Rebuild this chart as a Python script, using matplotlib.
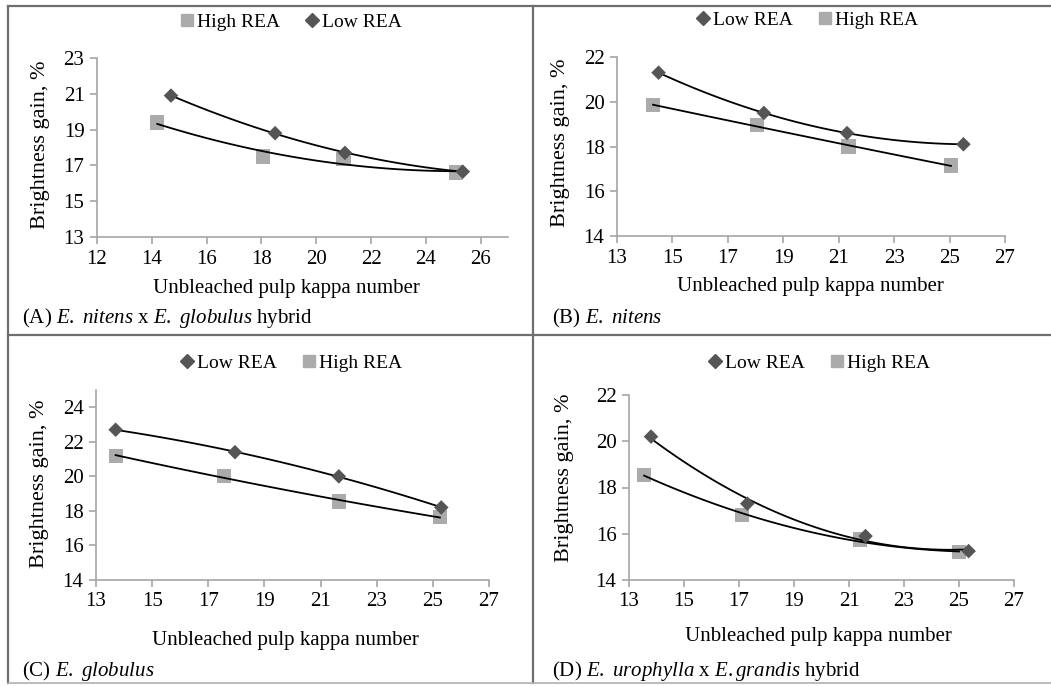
import numpy as np
import matplotlib
matplotlib.use('Agg')
import matplotlib.pyplot as plt
from matplotlib.lines import Line2D

plt.rcParams['font.family'] = ['Liberation Serif', 'DejaVu Serif']
plt.rcParams['mathtext.fontset'] = 'custom'
plt.rcParams['mathtext.rm'] = 'Liberation Serif'
plt.rcParams['mathtext.it'] = 'Liberation Serif:italic'

# data: (kappa number, brightness gain %)
lowA_x = [14.7, 18.5, 21.05, 25.35]
lowA_y = [20.9, 18.8, 17.7, 16.65]
highA_x = [14.2, 18.05, 21.0, 25.1]
highA_y = [19.4, 17.5, 17.35, 16.6]

lowB_x = [14.5, 18.3, 21.3, 25.5]
lowB_y = [21.3, 19.5, 18.6, 18.1]
highB_x = [14.3, 18.05, 21.35, 25.05]
highB_y = [19.85, 18.95, 18.0, 17.15]

lowC_x = [13.7, 17.95, 21.65, 25.3]
lowC_y = [22.7, 21.4, 20.0, 18.2]
highC_x = [13.7, 17.55, 21.65, 25.25]
highC_y = [21.2, 20.0, 18.55, 17.65]

lowD_x = [13.8, 17.3, 21.6, 25.35]
lowD_y = [20.2, 17.3, 15.9, 15.25]
highD_x = [13.55, 17.1, 21.4, 25.0]
highD_y = [18.55, 16.8, 15.75, 15.2]

xlabel = 'Unbleached pulp kappa number'
ylabel = 'Brightness gain, %'

LOW_COL = '#555555'
HIGH_COL = '#ababab'
AX_COL = '#a6a6a6'

fig = plt.figure(figsize=(10.51, 6.86), dpi=100)


def frac(px, py):
    # pixel position -> figure fraction
    return px / 1051, 1 - py / 686


def panel(rect, xlim, xticks, ylim, yticks, low, high, order, caption,
          leg_xy, ylab_x, xlab_y, cap_xy):
    ax = fig.add_axes(rect)
    ax.set_xlim(*xlim)
    ax.set_ylim(*ylim)
    ax.set_xticks(xticks)
    ax.set_yticks(yticks)
    for s in ('top', 'right'):
        ax.spines[s].set_visible(False)
    for s in ('left', 'bottom'):
        ax.spines[s].set_color(AX_COL)
        ax.spines[s].set_linewidth(1.2)
    ax.tick_params(direction='out', length=5, width=1.2, color=AX_COL,
                   labelsize=15, pad=4)
    # 2nd order trendlines like the spreadsheet ones
    for (xs, ys) in (low, high):
        c = np.polyfit(xs, ys, 2)
        xx = np.linspace(min(xs), max(xs), 100)
        ax.plot(xx, np.polyval(c, xx), color='black', lw=1.3, zorder=3)
    ax.scatter(high[0], high[1], marker='s', s=105, color=HIGH_COL, zorder=2,
               edgecolors='none')
    ax.scatter(low[0], low[1], marker='D', s=55, color=LOW_COL, zorder=4,
               edgecolors='none')
    ax.patch.set_alpha(0)

    fig.text(*frac(*ylab_x), ylabel, rotation=90, ha='center', va='center',
             fontsize=16)
    fig.text(*frac(*xlab_y), xlabel, ha='center', va='center', fontsize=15)
    fig.text(*frac(*cap_xy), caption, ha='left', va='center', fontsize=15)

    hl = Line2D([], [], marker='s', ls='', color=HIGH_COL, markersize=9)
    ll = Line2D([], [], marker='D', ls='', color=LOW_COL, markersize=7)
    handles = {'High REA': hl, 'Low REA': ll}
    fig.legend([handles[k] for k in order], order, loc='center',
               bbox_to_anchor=frac(*leg_xy), ncol=2, frameon=False,
               fontsize=14, handletextpad=0.05, columnspacing=1.2,
               handlelength=0.9)
    return ax


panel([97 / 1051, 1 - 237 / 686, 411 / 1051, 179 / 686],
      (12, 27), range(12, 27, 2), (13, 23), range(13, 24, 2),
      (lowA_x, lowA_y), (highA_x, highA_y), ['High REA', 'Low REA'],
      r'(A) $\mathit{E.}$ $\mathit{nitens}$ x $\mathit{E.}$ $\mathit{globulus}$ hybrid',
      (290, 22), (41, 145), (286, 288), (22, 318))

panel([617 / 1051, 1 - 236 / 686, 388 / 1051, 179 / 686],
      (13, 27), range(13, 28, 2), (14, 22), range(14, 23, 2),
      (lowB_x, lowB_y), (highB_x, highB_y), ['Low REA', 'High REA'],
      r'(B) $\mathit{E.}$ $\mathit{nitens}$',
      (806, 20), (561, 143), (810, 286), (552, 318))

panel([96 / 1051, 1 - 580 / 686, 393 / 1051, 190 / 686],
      (13, 27), range(13, 28, 2), (14, 25), range(14, 25, 2),
      (lowC_x, lowC_y), (highC_x, highC_y), ['Low REA', 'High REA'],
      r'(C) $\mathit{E.}$ $\mathit{globulus}$',
      (290, 363), (40, 484), (285, 640), (22, 671))

panel([629 / 1051, 1 - 580 / 686, 385 / 1051, 185 / 686],
      (13, 27), range(13, 28, 2), (14, 22), range(14, 23, 2),
      (lowD_x, lowD_y), (highD_x, highD_y), ['Low REA', 'High REA'],
      r'(D) $\mathit{E.}$ $\mathit{urophylla}$ x $\mathit{E.grandis}$ hybrid',
      (818, 363), (564, 478), (818, 636), (552, 671))

# table grid lines around the panels
grid = dict(color='#6e6e6e', lw=1.6, transform=fig.transFigure)
fig.add_artist(Line2D([8 / 1051, 1], [1 - 6 / 686] * 2, **grid))
fig.add_artist(Line2D([8 / 1051, 1], [1 - 335 / 686] * 2, **grid))
fig.add_artist(Line2D([8 / 1051, 8 / 1051], [1 - 6 / 686, 1 - 683 / 686], **grid))
fig.add_artist(Line2D([533 / 1051, 533 / 1051], [1 - 6 / 686, 1 - 683 / 686], **grid))
fig.add_artist(Line2D([8 / 1051, 1], [1 - 683 / 686] * 2, color='#b0b0b0',
                      lw=1.2, transform=fig.transFigure))

fig.savefig('out.png', dpi=100)
